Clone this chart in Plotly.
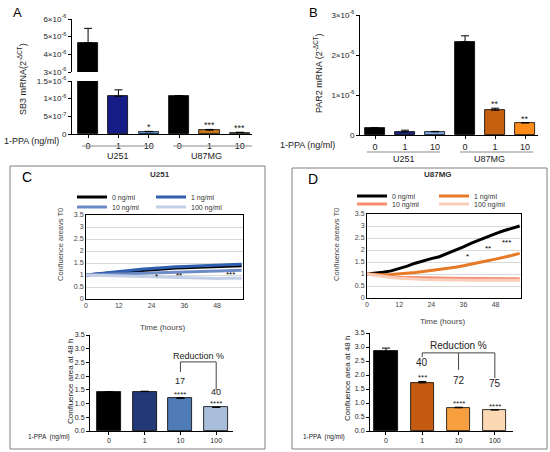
import plotly.graph_objects as go

W, H = 550, 452


def px(x):
    return x / W


def py(y):
    return 1 - y / H


FONT = "Liberation Sans"

# ---- data -------------------------------------------------------------
# A: SB3 mRNA (2^-dCT)
ab_doses = ["0", "1", "10", "0", "1", "10"]
ab_colors = ["#000000", "#161c86", "#5aa2ec", "#000000", "#c8781e", "#f6c28c"]
a_sb3 = [4.65e-6, 1.07e-6, 0.065e-6, 1.08e-6, 0.11e-6, 0.04e-6]
a_sb3_err = [0.82e-6, 0.18e-6, 0.01e-6, 0.01e-6, 0.02e-6, 0.01e-6]
a_sig = ["", "", "*", "", "***", "***"]

# B: PAR2 mRNA (2^-dCT)
b_colors = ["#000000", "#1a237e", "#7ea9e2", "#000000", "#c4600f", "#ff8c1a"]
b_par2 = [0.17e-6, 0.08e-6, 0.08e-6, 2.33e-6, 0.62e-6, 0.30e-6]
b_par2_err = [0.01e-6, 0.04e-6, 0.01e-6, 0.15e-6, 0.05e-6, 0.01e-6]
b_sig = ["", "", "", "", "**", "**"]

# C / D: confluence area vs T0 over time
hours = [0, 3, 6, 9, 12, 15, 18, 21, 24, 27, 30, 33, 36, 39, 42, 45, 48, 51, 54, 57]
conc_names = ["0 ng/ml", "1 ng/ml", "10 ng/ml", "100 ng/ml"]

u251_0 = [1.00, 1.02, 1.05, 1.08, 1.11, 1.14, 1.17, 1.20, 1.23, 1.25,
          1.27, 1.29, 1.30, 1.31, 1.33, 1.34, 1.35, 1.36, 1.38, 1.39]
u251_1 = [1.00, 1.04, 1.08, 1.12, 1.16, 1.19, 1.22, 1.25, 1.27, 1.30,
          1.32, 1.34, 1.35, 1.37, 1.38, 1.39, 1.41, 1.42, 1.44, 1.45]
u251_10 = [1.00, 1.01, 1.03, 1.04, 1.05, 1.06, 1.07, 1.08, 1.09, 1.10,
           1.11, 1.12, 1.13, 1.14, 1.15, 1.16, 1.17, 1.18, 1.19, 1.20]
u251_100 = [1.00, 0.99, 0.97, 0.96, 0.95, 0.94, 0.93, 0.92, 0.91, 0.90,
            0.89, 0.88, 0.87, 0.86, 0.86, 0.85, 0.85, 0.86, 0.86, 0.86]

u87_0 = [1.00, 1.03, 1.07, 1.13, 1.22, 1.33, 1.45, 1.56, 1.64, 1.72,
         1.85, 1.97, 2.13, 2.29, 2.43, 2.56, 2.68, 2.80, 2.90, 3.00]
u87_1 = [1.00, 0.98, 0.97, 0.98, 1.00, 1.03, 1.06, 1.10, 1.14, 1.18,
         1.23, 1.28, 1.34, 1.40, 1.47, 1.55, 1.62, 1.68, 1.77, 1.86]
u87_10 = [1.00, 0.95, 0.91, 0.88, 0.86, 0.85, 0.84, 0.83, 0.83, 0.82,
          0.82, 0.82, 0.81, 0.81, 0.81, 0.80, 0.80, 0.80, 0.80, 0.80]
u87_100 = [1.00, 0.94, 0.89, 0.85, 0.82, 0.80, 0.78, 0.77, 0.76, 0.76,
           0.75, 0.75, 0.75, 0.74, 0.74, 0.74, 0.74, 0.74, 0.74, 0.74]

c_line_colors = ["#000000", "#2f5fae", "#6d8cc6", "#c3cfe6"]
d_line_colors = ["#000000", "#e77a26", "#f58d72", "#f9cdb8"]
c_line_sig = [(26, 0.95, "*"), (34, 1.0, "**"), (53, 1.03, "***")]
d_line_sig = [(37.5, 1.73, "*"), (45, 2.05, "**"), (52, 2.32, "***")]

# C / D: confluence area at 48 h
cd_doses = ["0", "1", "10", "100"]
c_bar_colors = ["#000000", "#233877", "#4f7bb6", "#a8bed9"]
c_48h = [1.42, 1.44, 1.19, 0.86]
c_48h_err = [0.01, 0.01, 0.02, 0.01]
c_48h_sig = ["", "", "****", "****"]
c_reduction = ["", "", "17", "40"]

d_bar_colors = ["#000000", "#c55a11", "#f8a040", "#fcd8b4"]
d_48h = [2.84, 1.72, 0.83, 0.75]
d_48h_err = [0.12, 0.05, 0.02, 0.01]
d_48h_sig = ["", "***", "****", "****"]
d_reduction = ["", "40", "72", "75"]

fig = go.Figure()

# ---- A (broken axis: same bars on two y axes) -------------------------
for xa, ya in [("x", "y"), ("x2", "y2")]:
    fig.add_trace(go.Bar(
        x=list(range(len(ab_doses))), y=a_sb3, xaxis=xa, yaxis=ya,
        width=0.66, marker=dict(color=ab_colors, line=dict(color="black", width=0.8)),
        error_y=dict(type="data", array=a_sb3_err, arrayminus=[0] * 6, symmetric=False,
                     color="black", thickness=1, width=4),
        showlegend=False))

# ---- B ------------------------------------------------------------------
fig.add_trace(go.Bar(
    x=list(range(len(ab_doses))), y=b_par2, xaxis="x3", yaxis="y3",
    width=0.66, marker=dict(color=b_colors, line=dict(color="black", width=0.8)),
    error_y=dict(type="data", array=b_par2_err, arrayminus=[0] * 6, symmetric=False,
                 color="black", thickness=1, width=4),
    showlegend=False))

# ---- C / D time courses ---------------------------------------------------
c_series = [u251_0, u251_1, u251_10, u251_100]
d_series = [u87_0, u87_1, u87_10, u87_100]
for i, (name, ys) in enumerate(zip(conc_names, c_series)):
    fig.add_trace(go.Scatter(
        x=hours, y=ys, mode="lines", name=name, xaxis="x4", yaxis="y4",
        line=dict(color=c_line_colors[i], width=3),
        legend="legend" if i == 0 else "legend%d" % (i + 1)))
for i, (name, ys) in enumerate(zip(conc_names, d_series)):
    fig.add_trace(go.Scatter(
        x=hours, y=ys, mode="lines", name=name, xaxis="x6", yaxis="y6",
        line=dict(color=d_line_colors[i], width=3),
        legend="legend%d" % (i + 5)))

# ---- C / D bars at 48 h ---------------------------------------------------
fig.add_trace(go.Bar(
    x=list(range(len(cd_doses))), y=c_48h, xaxis="x5", yaxis="y5",
    width=0.67, marker=dict(color=c_bar_colors, line=dict(color="black", width=0.8)),
    error_y=dict(type="data", array=c_48h_err, arrayminus=[0] * 4, symmetric=False,
                 color="black", thickness=1, width=4),
    showlegend=False))
fig.add_trace(go.Bar(
    x=list(range(len(cd_doses))), y=d_48h, xaxis="x7", yaxis="y7",
    width=0.64, marker=dict(color=d_bar_colors, line=dict(color="black", width=0.8)),
    error_y=dict(type="data", array=d_48h_err, arrayminus=[0] * 4, symmetric=False,
                 color="black", thickness=1, width=4),
    showlegend=False))

# ---- axes ---------------------------------------------------------------
prism = dict(showline=True, linecolor="black", linewidth=1, ticks="outside",
             ticklen=3, tickcolor="black", showgrid=False, zeroline=False,
             automargin=False, tickfont=dict(size=8, color="#222"))
excel_y = dict(showline=True, mirror=True, linecolor="black", linewidth=1,
               showgrid=True, gridcolor="#d9d9d9", zeroline=False, ticks="",
               automargin=False, range=[0, 3.5], dtick=0.5,
               tickfont=dict(size=7, color="#444"))
excel_x = dict(showline=True, mirror=True, linecolor="black", linewidth=1,
               showgrid=False, zeroline=False, ticks="", range=[0, 57.5],
               automargin=False, tickvals=[0, 12, 24, 36, 48],
               tickfont=dict(size=7, color="#444"))

fig.update_layout(
    xaxis=dict(prism, domain=[px(72), px(252)], range=[-0.53, 5.4], anchor="y",
               tickvals=list(range(6)), ticktext=ab_doses, tickfont=dict(size=9, color="#222")),
    yaxis=dict(prism, domain=[py(134), py(81)], range=[0, 1.5e-6], anchor="x",
               tickvals=[0, 5e-7, 1e-6, 1.5e-6],
               ticktext=["0", "5×10<sup>-7</sup>", "1×10<sup>-6</sup>", "1.5×10<sup>-6</sup>"]),
    xaxis2=dict(domain=[px(72), px(252)], range=[-0.53, 5.4], anchor="y2", visible=False,
                automargin=False),
    yaxis2=dict(prism, domain=[py(72), py(19)], range=[3e-6, 6e-6], anchor="x2",
                tickvals=[3e-6, 4e-6, 5e-6, 6e-6],
                ticktext=["3×10<sup>-6</sup>", "4×10<sup>-6</sup>", "5×10<sup>-6</sup>",
                          "6×10<sup>-6</sup>"]),
    xaxis3=dict(prism, domain=[px(360), px(538)], range=[-0.5, 5.43], anchor="y3",
                tickvals=list(range(6)), ticktext=ab_doses, tickfont=dict(size=9, color="#222")),
    yaxis3=dict(prism, domain=[py(135), py(15)], range=[0, 3e-6], anchor="x3",
                tickvals=[0, 1e-6, 2e-6, 3e-6],
                ticktext=["0", "1×10<sup>-6</sup>", "2×10<sup>-6</sup>", "3×10<sup>-6</sup>"]),
    xaxis4=dict(excel_x, domain=[px(86), px(243)], anchor="y4"),
    yaxis4=dict(excel_y, domain=[py(299), py(215)], anchor="x4"),
    xaxis6=dict(excel_x, domain=[px(367), px(521)], anchor="y6"),
    yaxis6=dict(excel_y, domain=[py(298), py(214)], anchor="x6"),
    xaxis5=dict(prism, domain=[px(90), px(233)], range=[-0.53, 3.47], anchor="y5",
                tickvals=list(range(4)), ticktext=cd_doses, tickfont=dict(size=7, color="#222")),
    yaxis5=dict(prism, domain=[py(431), py(335)], range=[0, 3.5], anchor="x5",
                dtick=0.5, tickformat=".1f", tickfont=dict(size=7, color="#222")),
    xaxis7=dict(prism, domain=[px(370), px(513)], range=[-0.44, 3.5], anchor="y7",
                tickvals=list(range(4)), ticktext=cd_doses, tickfont=dict(size=7, color="#222")),
    yaxis7=dict(prism, domain=[py(431), py(333)], range=[0, 3.5], anchor="x7",
                dtick=0.5, tickformat=".1f", tickfont=dict(size=7, color="#222")),
)

# ---- legends (2x2 grid for each line chart) --------------------------------
leg_pos = [(114, 197), (193, 197), (114, 207), (193, 207),
           (394, 196), (476, 196), (394, 204), (476, 204)]
for i, (lx, ly) in enumerate(leg_pos):
    key = "legend" if i == 0 else "legend%d" % (i + 1)
    fig.update_layout({key: dict(x=px(lx - 42), y=py(ly), xanchor="left", yanchor="middle",
                                 bgcolor="rgba(0,0,0,0)", borderwidth=0, itemwidth=30,
                                 font=dict(size=7, color="#333"))})

# ---- annotations ------------------------------------------------------------
ann = []


def text(x, y, s, size=9, **kw):
    d = dict(x=px(x), y=py(y), xref="paper", yref="paper", text=s, showarrow=False,
             xanchor="center", yanchor="middle",
             font=dict(size=size, color=kw.pop("color", "#222")))
    d.update(kw)
    ann.append(d)


def sig(xref, yref, xs, tops, labels, size=9):
    for x, t, s in zip(xs, tops, labels):
        if s:
            ann.append(dict(x=x, y=t, xref=xref, yref=yref, text=s, showarrow=False,
                            yanchor="bottom", yshift=-3, font=dict(size=size, color="#222")))


# significance on bars
sig("x", "y", range(6), [v + e for v, e in zip(a_sb3, a_sb3_err)], a_sig)
sig("x3", "y3", range(6), [v + e for v, e in zip(b_par2, b_par2_err)], b_sig)
sig("x5", "y5", range(4), [v + e for v, e in zip(c_48h, c_48h_err)], c_48h_sig, size=8)
sig("x7", "y7", range(4), [v + e for v, e in zip(d_48h, d_48h_err)], d_48h_sig, size=8)
for x, y, s in c_line_sig:
    ann.append(dict(x=x, y=y, xref="x4", yref="y4", text=s, showarrow=False,
                    font=dict(size=8, color="black")))
for x, y, s in d_line_sig:
    ann.append(dict(x=x, y=y, xref="x6", yref="y6", text=s, showarrow=False,
                    font=dict(size=8, color="black")))

# reduction % labels
for x, s, y in zip(range(4), c_reduction, [None, None, 1.84, 1.44]):
    if s:
        ann.append(dict(x=x, y=y, xref="x5", yref="y5", text=s, showarrow=False,
                        font=dict(size=9, color="#222")))
for x, s, y in zip(range(4), d_reduction, [None, 2.46, 1.79, 1.71]):
    if s:
        ann.append(dict(x=x, y=y, xref="x7", yref="y7", text=s, showarrow=False,
                        font=dict(size=10, color="#222")))
ann.append(dict(x=2.5, y=2.74, xref="x5", yref="y5", text="Reduction %", showarrow=False,
                font=dict(size=9, color="#222")))
ann.append(dict(x=2.0, y=3.04, xref="x7", yref="y7", text="Reduction %", showarrow=False,
                font=dict(size=10, color="#222")))

# panel letters, titles
text(17, 12, "A", 13, color="black")
text(313, 12, "B", 13, color="black")
text(27, 177, "C", 14, color="black")
text(313, 179, "D", 14, color="black")
text(160, 174, "<b>U251</b>", 8, color="#333")
text(438, 174, "<b>U87MG</b>", 8, color="#333")

# axis titles
text(22, 79, "SB3 mRNA(2<sup>-ΔCT</sup>)", 9, textangle=-90)
text(318, 73, "PAR2 mRNA (2<sup>-ΔCT</sup>)", 9, textangle=-90)
text(60, 245, "Confluence areavs T0", 7.5, textangle=-90, color="#444")
text(336, 245, "Confluence areavs T0", 7.5, textangle=-90, color="#444")
text(70, 381, "Confluence area at 48 h", 8, textangle=-90)
text(347, 379, "Confluence area at 48 h", 8, textangle=-90)
text(162, 327, "Time (hours)", 8, color="#444")
text(442, 321, "Time (hours)", 8, color="#444")

text(2, 141, "1-PPA (ng/ml)", 9, xanchor="left")
text(278, 145, "1-PPA (ng/ml)", 9, xanchor="left")
text(26, 437, "1-PPA  (ng/ml)", 6.5, xanchor="left")
text(301, 437, "1-PPA  (ng/ml)", 6.5, xanchor="left")

# cell line group labels
ann.append(dict(x=1, y=py(156), xref="x", yref="paper", text="U251", showarrow=False,
                yanchor="middle", font=dict(size=9, color="#222")))
ann.append(dict(x=3.9, y=py(156), xref="x", yref="paper", text="U87MG", showarrow=False,
                yanchor="middle", font=dict(size=9, color="#222")))
ann.append(dict(x=0.95, y=py(159), xref="x3", yref="paper", text="U251", showarrow=False,
                yanchor="middle", font=dict(size=9, color="#222")))
ann.append(dict(x=3.8, y=py(159), xref="x3", yref="paper", text="U87MG", showarrow=False,
                yanchor="middle", font=dict(size=9, color="#222")))

# ---- shapes -----------------------------------------------------------------
shapes = []
gray = dict(color="#8a8a8a", width=1)
for xr, x0, x1, yy in [("x", -0.2, 2.1, 146), ("x", 2.8, 5.4, 146),
                       ("x3", -0.27, 2.17, 152), ("x3", 2.83, 5.27, 152)]:
    shapes.append(dict(type="line", xref=xr, yref="paper", x0=x0, x1=x1,
                       y0=py(yy), y1=py(yy), line=gray))
# panel frames
shapes.append(dict(type="rect", xref="paper", yref="paper", x0=px(10), x1=px(265),
                   y0=py(449), y1=py(166), line=dict(color="#7f7f7f", width=1)))
shapes.append(dict(type="rect", xref="paper", yref="paper", x0=px(292), x1=px(547),
                   y0=py(449), y1=py(168), line=dict(color="#7f7f7f", width=1)))
# reduction brackets
br = dict(color="#444", width=1)
for (xa, ya), pts in [
    (("x5", "y5"), [(2, 2.15, 2, 2.52), (2, 2.52, 3, 2.52), (3, 2.52, 3, 1.5)]),
    (("x7", "y7"), [(1, 2.64, 1, 2.79), (1, 2.79, 3, 2.79), (2, 2.79, 2, 2.18),
                    (3, 2.79, 3, 1.89)]),
]:
    for x0, y0, x1, y1 in pts:
        shapes.append(dict(type="line", xref=xa, yref=ya, x0=x0, y0=y0, x1=x1, y1=y1, line=br))

fig.update_layout(
    width=W, height=H, margin=dict(l=0, r=0, t=0, b=0, autoexpand=False),
    paper_bgcolor="white", plot_bgcolor="white",
    font=dict(family=FONT, size=9, color="#222"),
    showlegend=True, bargap=0,
    annotations=ann, shapes=shapes,
)

# page body margin would shift the figure inside the 550x452 window
fig.write_html("out.html", config={"displayModeBar": False},
               post_script="document.body.style.margin='0';document.body.style.overflow='hidden';")
